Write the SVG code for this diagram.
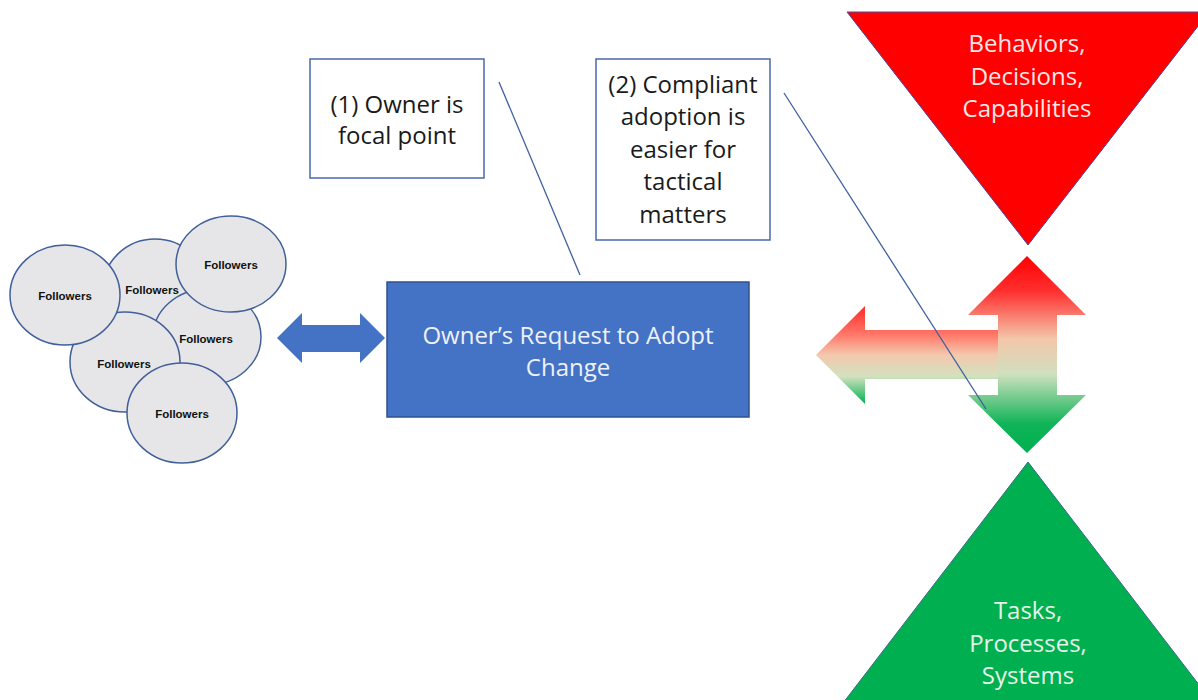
<svg xmlns="http://www.w3.org/2000/svg" width="1198" height="700" viewBox="0 0 1198 700">
<defs>
<style>
.fol{fill:#E6E6E8;stroke:#41609A;stroke-width:1.5}
.folt{font-family:"Liberation Sans",Arial,sans-serif;font-weight:bold;font-size:11.5px;fill:#111;text-anchor:middle}
.box{fill:#fff;stroke:#4A6AAA;stroke-width:1.5}
.bt{font-family:"Open Sans","Noto Sans",sans-serif;font-size:24px;fill:#1a1a1a;text-anchor:middle}
.wt{font-family:"Open Sans","Noto Sans",sans-serif;font-size:24px;text-anchor:middle}
.conn{stroke:#3F5FA0;stroke-width:1.3;fill:none}
</style>
<linearGradient id="gv" gradientUnits="userSpaceOnUse" x1="0" y1="256" x2="0" y2="453">
<stop offset="0" stop-color="#FF0000"/>
<stop offset="0.18" stop-color="#FF3030"/>
<stop offset="0.42" stop-color="#F4C6AA"/>
<stop offset="0.6" stop-color="#CFE0BE"/>
<stop offset="0.85" stop-color="#10B458"/>
<stop offset="1" stop-color="#00B050"/>
</linearGradient>
<linearGradient id="gh" gradientUnits="userSpaceOnUse" x1="0" y1="306" x2="0" y2="404">
<stop offset="0" stop-color="#FF2A2A"/>
<stop offset="0.3" stop-color="#FF7A6A"/>
<stop offset="0.5" stop-color="#F4C8AE"/>
<stop offset="0.72" stop-color="#D2E1BF"/>
<stop offset="1" stop-color="#00B050"/>
</linearGradient>
</defs>
<rect width="1198" height="700" fill="#fff"/>

<g id="followers">
<ellipse class="fol" cx="155" cy="289" rx="52" ry="50"/>
<text class="folt" x="152" y="294">Followers</text>
<ellipse class="fol" cx="207" cy="337" rx="54" ry="48"/>
<text class="folt" x="206" y="343">Followers</text>
<ellipse class="fol" cx="231" cy="264" rx="55" ry="48"/>
<text class="folt" x="231" y="269">Followers</text>
<ellipse class="fol" cx="125" cy="362" rx="55" ry="50"/>
<text class="folt" x="124" y="368">Followers</text>
<ellipse class="fol" cx="65" cy="295" rx="55" ry="50"/>
<text class="folt" x="65" y="300">Followers</text>
<ellipse class="fol" cx="182" cy="413" rx="55" ry="50"/>
<text class="folt" x="182" y="418">Followers</text>
</g>

<g id="double-arrow">
<path d="M277,338 L302,313 L302,325 L360,325 L360,313 L385,338 L360,363 L360,352 L302,352 L302,363 Z" fill="#4472C4"/>
</g>

<g id="request">
<rect x="387" y="282" width="362" height="135" fill="#4472C4" stroke="#2F528F" stroke-width="1.5"/>
<text class="wt" x="568" y="344" fill="#EEF1FA">Owner’s Request to Adopt</text>
<text class="wt" x="568" y="376" fill="#EEF1FA">Change</text>
</g>

<g id="note1">
<rect class="box" x="310" y="59" width="174" height="119"/>
<text class="bt" x="397" y="113">(1) Owner is</text>
<text class="bt" x="397" y="144">focal point</text>
</g>

<g id="note2">
<rect class="box" x="596" y="59" width="174" height="181"/>
<text class="bt" x="683" y="93">(2) Compliant</text>
<text class="bt" x="683" y="125">adoption is</text>
<text class="bt" x="683" y="158">easier for</text>
<text class="bt" x="683" y="190">tactical</text>
<text class="bt" x="683" y="223">matters</text>
</g>

<g id="top-triangle">
<polygon points="847,12 1209,12 1028,245" fill="#FF0000" stroke="#4A4A9A" stroke-width="1"/>
<text class="wt" x="1027" y="52" fill="#FBE6E6">Behaviors,</text>
<text class="wt" x="1027" y="85" fill="#FBE6E6">Decisions,</text>
<text class="wt" x="1027" y="117" fill="#FBE6E6">Capabilities</text>
</g>

<g id="bottom-triangle">
<polygon points="1028,462 1226,720 830,720" fill="#00B050" stroke="#3A6A8A" stroke-width="1"/>
<text class="wt" x="1028" y="619" fill="#E6F4EA">Tasks,</text>
<text class="wt" x="1028" y="652" fill="#E6F4EA">Processes,</text>
<text class="wt" x="1028" y="684" fill="#E6F4EA">Systems</text>
</g>

<g id="left-arrow">
<path d="M816,355 L865,306 L865,330 L1000,330 L1000,379 L865,379 L865,404 Z" fill="url(#gh)"/>
</g>

<g id="vertical-arrow">
<path d="M1027,256 L1086,315 L1057,315 L1057,395 L1086,395 L1027,453 L968,395 L998,395 L998,315 L968,315 Z" fill="url(#gv)"/>
</g>

<g id="connectors">
<line class="conn" x1="499" y1="82" x2="580" y2="275"/>
<line class="conn" x1="784" y1="93" x2="986" y2="409"/>
</g>
</svg>
